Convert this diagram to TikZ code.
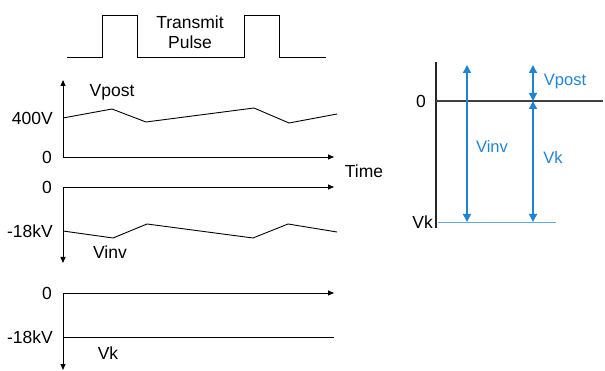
\documentclass[tikz,border=0pt]{standalone}
\usepackage{fontspec}
\setmainfont{Liberation Sans}
\usetikzlibrary{arrows.meta,positioning}
\definecolor{vblue}{RGB}{32,132,214}

\begin{document}
\begin{tikzpicture}[x=1pt, y=-1pt, lbl/.style={font=\fontsize{17.5}{20}\selectfont, inner sep=0pt}, blbl/.style={lbl, text=vblue, font=\fontsize{16.5}{20}\selectfont}, wave/.style={line width=0.9pt}, axes/.style={{Triangle[length=6pt,width=5pt]}-{Triangle[length=6pt,width=5pt]}, line width=0.9pt}, varr/.style={{Triangle[length=8pt,width=8pt]}-{Triangle[length=8pt,width=8pt]}, vblue, line width=1.3pt}]
\useasboundingbox (0,0) rectangle (605,371);
% transmit pulse
\draw[wave] (67,57) -- (102,57) -- (102,15) -- (137,15) -- (137,57) -- (244,57) -- (244,15) -- (279,15) -- (279,57) -- (326,57);
\node[lbl, align=center] (pulse) at (190,32) {Transmit\\Pulse};
% Vpost panel
\coordinate (top1) at (63,80);
\coordinate (org1) at (63,157);
\coordinate (end1) at (334,157);
\draw[axes] (top1) -- (org1) -- (end1);
\draw[wave] (63,118) -- (112,109) -- (146,122) -- (254,108) -- (289,123) -- (337,114);
\node[lbl, anchor=east] (zero1) at (52,157) {0};
\node[lbl, anchor=east] (v400) at (53,118) {400V};
\node[lbl] (vpost) at (112,92) {Vpost};
\node[lbl] (time) at (364,171) {Time};
% Vinv panel
\coordinate (org2) at (63,187);
\coordinate (end2) at (334,187);
\coordinate (bot2) at (63,263);
\draw[axes] (end2) -- (org2) -- (bot2);
\draw[wave] (63,231) -- (113,238) -- (147,224) -- (253,238) -- (288,224) -- (337,232);
\node[lbl, anchor=east] (zero2) at (52,187) {0};
\node[lbl, anchor=east] (kv2) at (53,231) {-18kV};
\node[lbl] (vinv) at (110,252) {Vinv};
% Vk panel
\coordinate (org3) at (63,293);
\coordinate (end3) at (334,293);
\coordinate (bot3) at (63,370);
\coordinate (lvl3) at (63,337);
\coordinate (lve3) at (334,337);
\draw[axes] (end3) -- (org3) -- (bot3);
\draw[wave] (lvl3) -- (lve3);
\node[lbl, anchor=east] (zero3) at (52,293) {0};
\node[lbl, anchor=east] (kv3) at (53,337) {-18kV};
\node[lbl] (vk) at (108,353) {Vk};
% voltage levels
\coordinate (rtop) at (436,62);
\coordinate (rbot) at (436,228);
\coordinate (rzero) at (436,101);
\coordinate (rzend) at (603,101);
\coordinate (rk) at (438,222);
\coordinate (rkend) at (556,222);
\draw[line width=1.1pt, black!85] (rtop) -- (rbot);
\draw[line width=1.1pt, black!75] (rzero) -- (rzend);
\draw[vblue!70, line width=0.8pt] (rk) -- (rkend);
\node[lbl, anchor=east] (rlz) at (426,101) {0};
\node[lbl, anchor=east] (rlk) at (433,222) {Vk};
\coordinate (ainvt) at (467,65);
\coordinate (ainvb) at (467,222);
\coordinate (apt) at (533,65);
\coordinate (apm) at (533,101);
\coordinate (akb) at (533,222);
\draw[varr] (ainvt) -- (ainvb);
\draw[varr] (apt) -- (apm);
\draw[varr] (apm) -- (akb);
\node[blbl] (rinv) at (492,147) {Vinv};
\node[blbl] (rpost) at (565,82) {Vpost};
\node[blbl] (rvk) at (553,158) {Vk};
\end{tikzpicture}
\end{document}
